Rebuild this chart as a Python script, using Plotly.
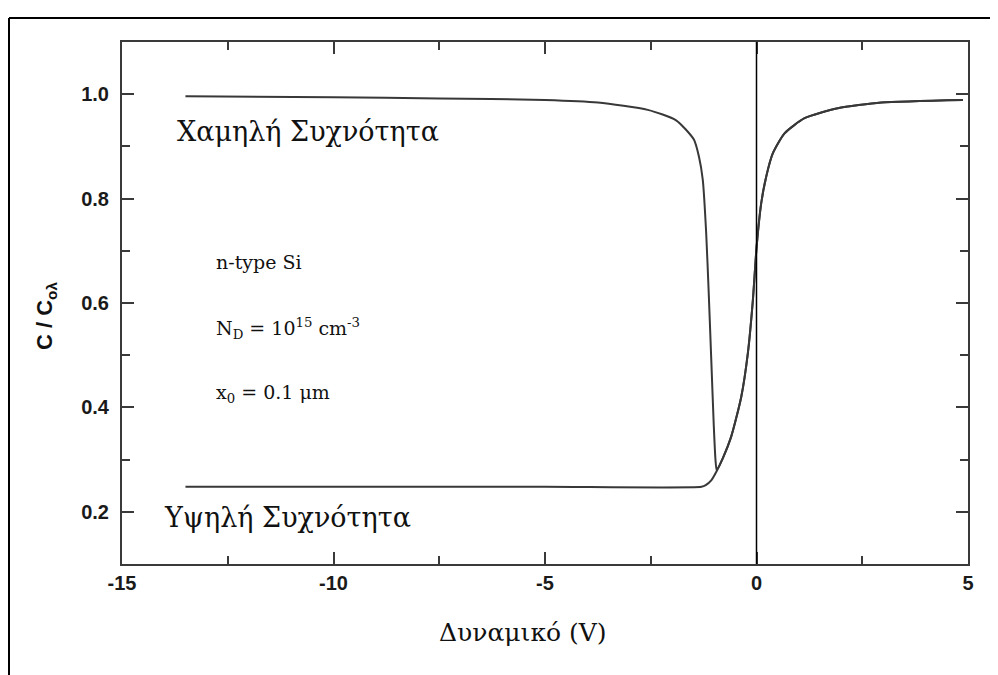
import plotly.graph_objects as go

# ---- data ----
lf_voltage = [-13.5, -10.0, -7.5, -5.0, -3.75, -2.57, -1.90, -1.48, -1.36, -1.27, -1.19, -1.13,
              -1.07, -1.01, -0.97, -0.94, -0.80, -0.598, -0.361, -0.204, -0.085, 0.0, 0.111,
              0.229, 0.387, 0.663, 1.136, 1.92, 2.95, 4.88]
lf_capacitance = [0.996, 0.994, 0.992, 0.989, 0.984, 0.970, 0.950, 0.913, 0.88, 0.836, 0.735, 0.62,
                  0.493, 0.365, 0.30, 0.280, 0.302, 0.344, 0.420, 0.504, 0.606, 0.705, 0.791,
                  0.842, 0.887, 0.925, 0.954, 0.973, 0.984, 0.989]

hf_voltage = [-13.5, -10.0, -5.0, -1.30, -1.20, -1.07, -0.94, -0.80, -0.598, -0.361, -0.204,
              -0.085, 0.0, 0.111, 0.229, 0.387, 0.663, 1.136, 1.92, 2.95, 4.88]
hf_capacitance = [0.248, 0.248, 0.248, 0.248, 0.251, 0.260, 0.278, 0.302, 0.344, 0.420, 0.504,
                  0.606, 0.705, 0.791, 0.842, 0.887, 0.925, 0.954, 0.973, 0.984, 0.989]

x_ticks = [-15, -10, -5, 0, 5]
x_tick_labels = ["-15", "-10", "-5", "0", "5"]
y_ticks = [0.2, 0.4, 0.6, 0.8, 1.0]
y_tick_labels = ["0.2", "0.4", "0.6", "0.8", "1.0"]

label_low = "Χαμηλή Συχνότητα"
label_high = "Υψηλή Συχνότητα"
label_type = "n-type Si"
label_nd = "N<sub>D</sub> = 10<sup>15</sup> cm<sup>-3</sup>"
label_x0 = "x<sub>0</sub> = 0.1 μm"
x_title = "Δυναμικό (V)"
y_title = "<b>C / C<sub>ολ</sub></b>"

# ---- layout geometry (page offset of 8 px from the body margin) ----
OFF = 8
W, H = 998 - OFF, 675 - OFF
L, T = 122 - OFF, 42 - OFF
PR, PB = 968 - OFF, 564 - OFF
R, B = W - PR, H - PB
PW, PH = PR - L, PB - T


def px(xp):
    return (xp - OFF - L) / PW


def py(yp):
    return (PB - (yp - OFF)) / PH


line_color = "#383838"
serif = "DejaVu Serif, Liberation Serif, serif"
sans = "Liberation Sans, Arial, sans-serif"

fig = go.Figure()
fig.add_trace(go.Scatter(x=lf_voltage, y=lf_capacitance, mode="lines",
                         line=dict(color=line_color, width=2, shape="spline", smoothing=0.6),
                         showlegend=False))
fig.add_trace(go.Scatter(x=hf_voltage, y=hf_capacitance, mode="lines",
                         line=dict(color=line_color, width=2, shape="spline", smoothing=0.6),
                         showlegend=False))

axis_common = dict(showgrid=False, zeroline=False, showline=True, linecolor="#3a3a3a",
                   linewidth=2, mirror="ticks", ticks="inside", tickcolor="#3a3a3a",
                   tickwidth=1.5, ticklen=12,
                   tickfont=dict(family=sans, size=20, color="#1a1a1a", weight="bold"))

fig.update_xaxes(range=[-15, 5], tickvals=x_ticks, ticktext=x_tick_labels,
                 minor=dict(dtick=2.5, ticks="inside", ticklen=8, tickcolor="#3a3a3a", tickwidth=1.5),
                 ticklabelstandoff=0, **axis_common)
fig.update_yaxes(range=[0.1, 1.1], tickvals=y_ticks, ticktext=y_tick_labels,
                 minor=dict(dtick=0.1, ticks="inside", ticklen=8, tickcolor="#3a3a3a", tickwidth=1.5),
                 ticklabelstandoff=7, **axis_common)

# vertical line at V = 0
fig.add_shape(type="line", xref="x", yref="paper", x0=0, x1=0, y0=0, y1=1,
              line=dict(color="black", width=1.5))

# outer frame (top and left)
fig.add_shape(type="line", xref="paper", yref="paper", x0=px(9), x1=px(1000), y0=py(18), y1=py(18),
              line=dict(color="black", width=2))
fig.add_shape(type="line", xref="paper", yref="paper", x0=px(9), x1=px(9), y0=py(18), y1=py(680),
              line=dict(color="black", width=2))

ann = [
    dict(text=label_low, x=px(175), y=py(131), size=27),
    dict(text=label_high, x=px(162), y=py(517), size=27),
    dict(text=label_type, x=px(214), y=py(262), size=19),
    dict(text=label_nd, x=px(214), y=py(328), size=19),
    dict(text=label_x0, x=px(214), y=py(393), size=19),
]
for a in ann:
    fig.add_annotation(text=a["text"], xref="paper", yref="paper", x=a["x"], y=a["y"],
                       xanchor="left", yanchor="middle", showarrow=False,
                       font=dict(family=serif, size=a["size"], color="#111111"))

fig.add_annotation(text=x_title, xref="paper", yref="paper", x=px(523), y=py(632),
                   xanchor="center", yanchor="middle", showarrow=False,
                   font=dict(family=serif, size=25, color="#111111"))
fig.add_annotation(text=y_title, xref="paper", yref="paper", x=px(46), y=py(316),
                   xanchor="center", yanchor="middle", showarrow=False, textangle=-90,
                   font=dict(family=sans, size=22, color="#111111"))

fig.update_layout(width=W, height=H, margin=dict(l=L, r=R, t=T, b=B),
                  paper_bgcolor="white", plot_bgcolor="white", showlegend=False)

fig.write_html("out.html")
